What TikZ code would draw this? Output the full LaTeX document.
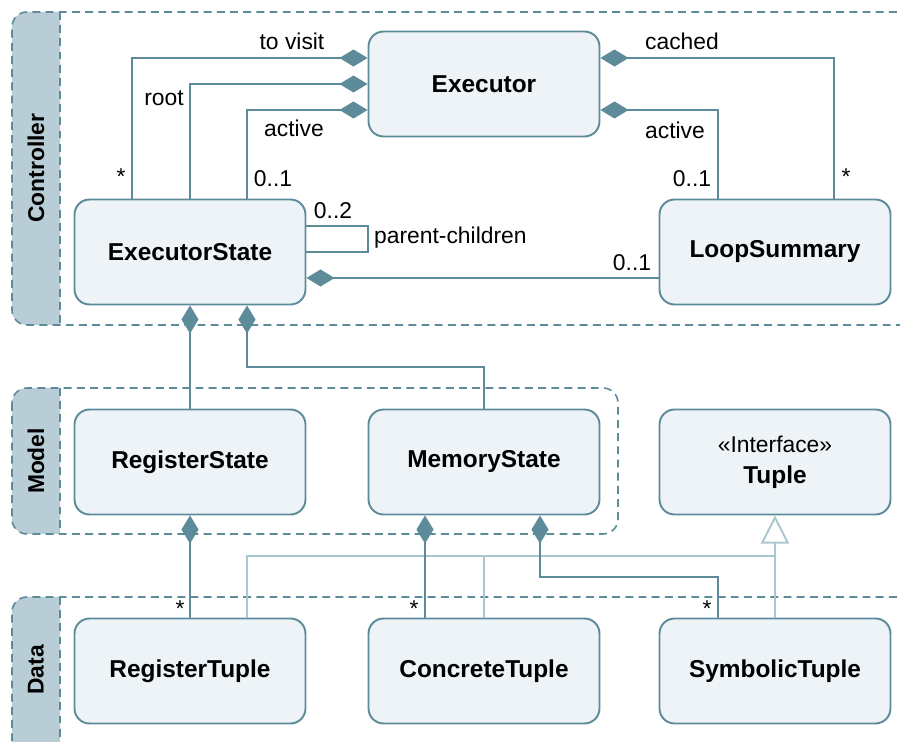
\documentclass[tikz,border=0pt]{standalone}
\usepackage{fontspec}
\setmainfont{Liberation Sans}
\usetikzlibrary{arrows.meta}

\definecolor{umlline}{RGB}{94,139,153}
\definecolor{umlfill}{RGB}{237,243,246}
\definecolor{lanehead}{RGB}{184,205,213}
\definecolor{umllight}{RGB}{170,198,206}

\begin{document}
\begin{tikzpicture}[
    x=0.02cm, y=-0.02cm,
    class/.style={rectangle, rounded corners=0.3cm, draw=umlline, fill=umlfill, line width=1.1pt,
        minimum width=4.62cm, minimum height=2.1cm, font=\fontsize{13.9}{17.6}\selectfont\bfseries},
    lane/.style={draw=umlline, line width=0.9pt, dash pattern=on 4.5pt off 3pt},
    lanename/.style={rotate=90, font=\fontsize{13}{15}\selectfont\bfseries},
    comp/.style={draw=umlline, line width=1.1pt, -{Diamond[length=16pt, width=9.7pt]}},
    assoc/.style={draw=umlline, line width=1.1pt},
    impl/.style={draw=umllight, line width=1.1pt},
    lbl/.style={font=\fontsize{13}{15}\selectfont}
]
    \useasboundingbox (0,0) rectangle (900,742);
    \clip (0,0) rectangle (900,742);

    % swimlanes
    \begin{scope}
        \clip (12,0) rectangle (60,742);
        \fill[lanehead, rounded corners=0.3cm] (12,12) rectangle (100,325);
        \fill[lanehead, rounded corners=0.3cm] (12,388) rectangle (100,534);
        \fill[lanehead, rounded corners=0.3cm] (12,597) rectangle (100,790);
    \end{scope}
    \draw[lane, rounded corners=0.3cm] (910,12) -| (12,325) -- (910,325);
    \draw[lane, rounded corners=0.3cm] (12,388) rectangle (618,534);
    \draw[lane, rounded corners=0.3cm] (910,597) -| (12,790);
    \draw[lane] (60,12) -- (60,325);
    \draw[lane] (60,388) -- (60,534);
    \draw[lane] (60,597) -- (60,760);
    \node[lanename] (ctrl) at (36,168) {Controller};
    \node[lanename] (mdl) at (36,461) {Model};
    \node[lanename] (dat) at (36,670) {Data};

    \node[class] (exec) at (484,84) {Executor};
    \node[class] (estate) at (190,252) {ExecutorState};
    \node[class] (lsum) at (775,252) {LoopSummary};
    \node[class] (rstate) at (190,462) {RegisterState};
    \node[class] (mstate) at (484,462) {MemoryState};
    \node[class, align=center] (tuple) at (775,462) {{\mdseries\fontsize{13}{17.6}\selectfont «Interface»}\\Tuple};
    \node[class] (rtuple) at (190,671) {RegisterTuple};
    \node[class] (ctuple) at (484,671) {ConcreteTuple};
    \node[class] (stuple) at (775,671) {SymbolicTuple};

    % realisation of the tuple interface
    \draw[impl] (rtuple.north -| 247,0) |- (tuple.south |- 0,556);
    \draw[impl] (ctuple.north) -- (ctuple.north |- 0,556);
    \draw[impl, -{Triangle[fill=white, length=16pt, width=16pt]}] (stuple.north) -- (tuple.south);

    % compositions
    \draw[comp] (estate.north -| 132,0) |- (exec.west |- 0,58);
    \draw[comp] (estate.north) |- (exec.west |- 0,84);
    \draw[comp] (estate.north -| 247,0) |- (exec.west |- 0,110);
    \draw[comp] (lsum.north -| 834,0) |- (exec.east |- 0,58);
    \draw[comp] (lsum.north -| 718,0) |- (exec.east |- 0,110);
    \draw[comp] (lsum.west |- 0,278) -- (estate.east |- 0,278);
    \draw[assoc] (estate.east |- 0,226) -- ++(62,0) |- (estate.east |- 0,252);
    \draw[comp] (rstate.north) -- (estate.south);
    \draw[comp] (mstate.north) |- (247,367) -- (estate.south -| 247,0);
    \draw[comp] (rtuple.north) -- (rstate.south);
    \draw[comp] (ctuple.north -| 425,0) -- (mstate.south -| 425,0);
    \draw[comp] (stuple.north -| 718,0) |- (540,577) -- (mstate.south -| 540,0);

    \node[lbl] (lvisit) at (292,41) {to visit};
    \node[lbl] (lroot) at (164,98) {root};
    \node[lbl] (lact) at (294,128) {active};
    \node[lbl] (mvisit) at (121,177) {*};
    \node[lbl] (mact) at (273,179) {0..1};
    \node[lbl] (lcache) at (682,41) {cached};
    \node[lbl] (lact2) at (675,130) {active};
    \node[lbl] (mact2) at (692,179) {0..1};
    \node[lbl] (mcache) at (846,177) {*};
    \node[lbl] (mkids) at (333,211) {0..2};
    \node[lbl, anchor=west] (lkids) at (368,238) {parent-children};
    \node[lbl] (msum) at (632,263) {0..1};
    \node[lbl] (mreg) at (180,609) {*};
    \node[lbl] (mconc) at (414,609) {*};
    \node[lbl] (msym) at (707,609) {*};
\end{tikzpicture}
\end{document}
